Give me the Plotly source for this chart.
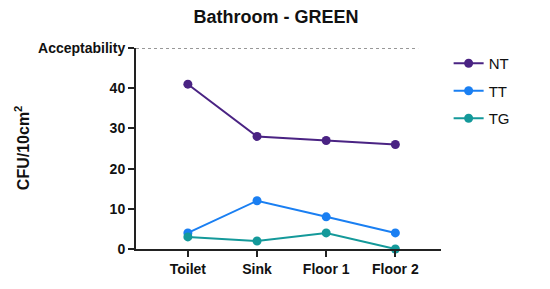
import plotly.graph_objects as go

categories = ["Toilet", "Sink", "Floor 1", "Floor 2"]
nt = [41, 28, 27, 26]
tt = [4, 12, 8, 4]
tg = [3, 2, 4, 0]
y_tickvals = [0, 10, 20, 30, 40, 50]
y_ticktext = ["0", "10", "20", "30", "40", "Acceptability"]
acceptability = 50

series = [("NT", nt, "#4a2383"), ("TT", tt, "#1a7ff2"), ("TG", tg, "#14999a")]

fig = go.Figure()
for name, vals, col in series:
    fig.add_trace(go.Scatter(
        x=categories, y=vals, name=name, mode="lines+markers",
        legendgroup=name,
        line=dict(color=col, width=2), marker=dict(color=col, size=9),
        cliponaxis=False,
    ))

fig.add_shape(type="line", xref="paper", yref="y", x0=0, x1=0.925,
              y0=acceptability, y1=acceptability,
              line=dict(color="#333", width=1.2, dash="dot"))

fig.add_annotation(text="<b>CFU/10cm<sup>2</sup></b>", xref="paper", yref="paper",
                   x=-0.375, y=0.5, xanchor="center", yanchor="middle",
                   textangle=-90, showarrow=False,
                   font=dict(size=16, color="#111"))

# page body has an 8px default margin, so the figure is sized/offset to compensate
fig.update_layout(
    width=542, height=281,
    margin=dict(l=128, r=109, t=40, b=40),
    paper_bgcolor="white", plot_bgcolor="white",
    font=dict(family="Arial, Liberation Sans, sans-serif", color="#111"),
    title=dict(text="<b>Bathroom - GREEN</b>", x=0.459, xanchor="center",
               xref="paper",
               y=0.968, yanchor="middle", font=dict(size=18, color="#111")),
    showlegend=True,
    legend=dict(x=1.025, y=1.005, xanchor="left", yanchor="top",
                font=dict(size=15, color="#111"), tracegroupgap=5,
                traceorder="grouped",
                itemwidth=30, bgcolor="rgba(0,0,0,0)"),
    xaxis=dict(type="category", range=[-0.75, 3.66], showgrid=False,
               showline=True, linecolor="#222", linewidth=2,
               ticks="outside", ticklen=6, tickwidth=2, tickcolor="#222",
               tickfont=dict(size=14, weight="bold"), zeroline=False,
               automargin=False),
    yaxis=dict(range=[0, 50], showgrid=False, showline=True,
               linecolor="#222", linewidth=2, ticks="outside", ticklen=6,
               tickwidth=2, tickcolor="#222", tickvals=y_tickvals,
               ticktext=y_ticktext, tickfont=dict(size=14, weight="bold"),
               zeroline=False, automargin=False),
)

fig.write_html("out.html")
